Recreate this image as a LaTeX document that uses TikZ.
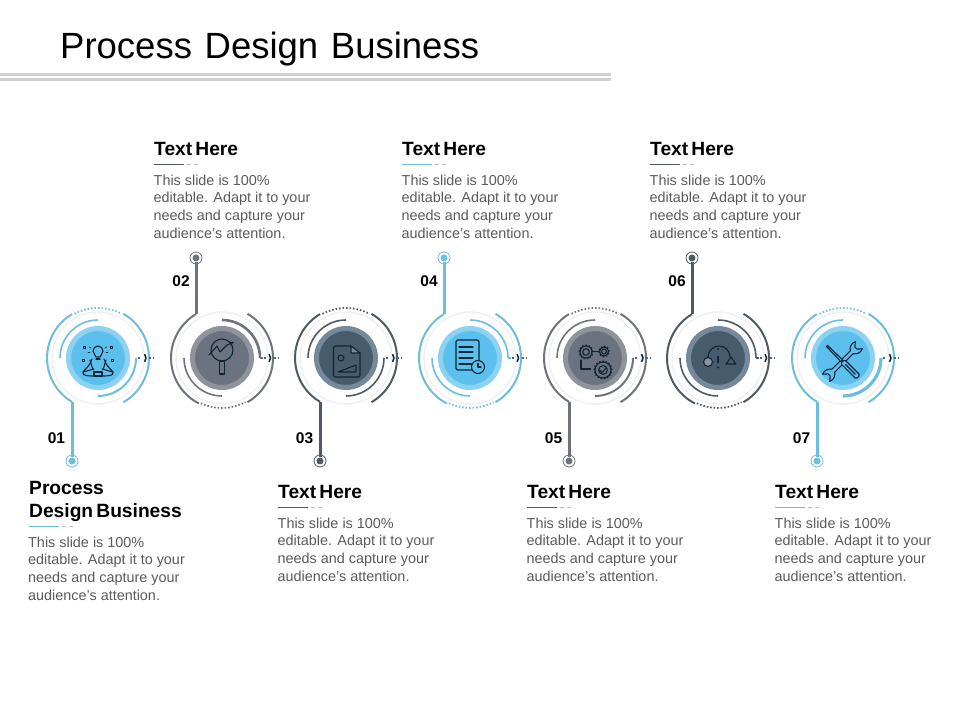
\documentclass[tikz,border=0pt]{standalone}
\usepackage{fontspec}
\setmainfont{Liberation Sans}
\newfontfamily\titlefont[WordSpace=1.25]{Liberation Sans}
\newfontface\headface[WordSpace=0.6]{Liberation Sans Bold}
\usetikzlibrary{arrows,calc}
\definecolor{skyL}{HTML}{6CBEDC}
\definecolor{skyF}{HTML}{5CC0EE}
\definecolor{skyR}{HTML}{8DD2F0}
\definecolor{ashL}{HTML}{6F747C}
\definecolor{ashF}{HTML}{6C7380}
\definecolor{ashR}{HTML}{8F949C}
\definecolor{inkL}{HTML}{4E5B64}
\definecolor{inkF}{HTML}{465B6B}
\definecolor{inkR}{HTML}{75899A}
\definecolor{iconink}{HTML}{0F2536}
\definecolor{bodygrey}{HTML}{5A5A5A}
\tikzset{
  disc/.style={circle,inner sep=0pt,minimum size=59pt,line width=5pt},
  pinnode/.style={circle,inner sep=0pt,minimum size=7pt},
  head/.style={anchor=north west,inner sep=0pt,align=left,font=\headface\fontsize{19.2}{23}\selectfont},
  bodytext/.style={anchor=north west,inner sep=0pt,align=left,text=bodygrey,font=\fontsize{14.4}{17.7}\selectfont},
  stepno/.style={inner sep=0pt,font=\bfseries\fontsize{15.5}{18}\selectfont},
  ico/.style={draw=iconink,line width=1.1pt,line cap=round,line join=round},
  dots/.style={dash pattern=on 1.5pt off 2pt,line width=1.8pt}
}
\newcommand{\ringarc}[5][]{\draw[#1] ($(#2)+(#4:#3)$) arc[start angle=#4,end angle=#5,radius=#3];}
\newcommand{\gearico}[3]{
  \draw[ico] (#1,#2) circle[radius=#3];
  \draw[ico] (#1,#2) circle[radius=.55*#3];
  \draw[draw=iconink,line width=1.4pt,dash pattern=on 1.6pt off 1.6pt] (#1,#2) circle[radius=#3+.7];
}
\newcommand{\bodylines}{This slide is 100\%\\editable. Adapt it to your\\needs and capture your\\audience's attention.}

\begin{document}
\begin{tikzpicture}[x=1pt,y=1pt]
\useasboundingbox (0,0) rectangle (960,720);

\node[anchor=west,inner sep=0pt,font=\titlefont\fontsize{36.5}{40}\selectfont] (title) at (60,671) {Process Design Business};
\draw[line width=3pt,color=black!18] (0,645) -- (611,645);
\draw[line width=3pt,color=black!18] (0,640) -- (611,640);

\foreach \n/\x/\tone/\w in {1/98/sky/2,3/346/ink/1.6,5/595/ash/2,7/843/sky/3.2}{
  \node[disc,draw=\tone R,fill=\tone F] (d\n) at (\x,362) {};
  \ringarc[color=black!6,line width=1.5pt]{d\n}{46}{0}{360}
  \ringarc[color=\tone L,line width=2pt]{d\n}{51}{239.35}{120.65}
  \ringarc[color=\tone L,dots]{d\n}{50}{118}{62}
  \ringarc[color=\tone L,line width=2pt]{d\n}{51}{60}{-60}
  \ringarc[color=\tone L,line width=1.6pt]{d\n}{38}{180}{90}
  \ringarc[color=\tone L,line width=\w pt]{d\n}{38}{0}{-90}
  \coordinate (k\n) at ($(d\n)+(-26,-43.9)$);
  \node[pinnode,fill=\tone L] (p\n) at (\x-26,259) {};
  \draw[color=\tone L,line width=3pt] (k\n) -- (p\n);
  \draw[color=\tone L,line width=.8pt] (p\n) circle[radius=6];
  \node[stepno] (n\n) at (\x-41.5,282) {0\n};
  \draw[color=iconink!70,dots,line width=1.3pt] ($(d\n)+(40,0)$) -- ($(d\n)+(43,0)$);
  \draw[color=iconink!70,dots,line width=1.3pt] ($(d\n)+(51,0)$) -- ($(d\n)+(56,0)$);
  \ringarc[color=iconink,line width=1.5pt]{$(d\n)+(42,0)$}{6}{40}{-40}
}
\foreach \n/\x/\tone/\w in {2/222/ash/2.6,4/470/sky/1.6,6/718/ink/1.6}{
  \node[disc,draw=\tone R,fill=\tone F] (d\n) at (\x,362) {};
  \ringarc[color=black!6,line width=1.5pt]{d\n}{46}{0}{360}
  \ringarc[color=\tone L,line width=2pt]{d\n}{51}{120.65}{243}
  \ringarc[color=\tone L,dots]{d\n}{50}{245}{298}
  \ringarc[color=\tone L,line width=2pt]{d\n}{51}{-60}{60}
  \ringarc[color=\tone L,line width=\w pt]{d\n}{38}{90}{0}
  \draw[color=\tone L,line width=1.6pt] ($(d\n)+(38,0)$) -- ($(d\n)+(41,0)$);
  \ringarc[color=\tone L,line width=1.6pt]{d\n}{38}{180}{270}
  \coordinate (k\n) at ($(d\n)+(-26,43.9)$);
  \node[pinnode,fill=\tone L] (p\n) at (\x-26,462) {};
  \draw[color=\tone L,line width=3pt] (k\n) -- (p\n);
  \draw[color=\tone L,line width=.8pt] (p\n) circle[radius=6];
  \node[stepno] (n\n) at (\x-41,439) {0\n};
  \draw[color=iconink!70,dots,line width=1.3pt] ($(d\n)+(42,0)$) -- ($(d\n)+(45,0)$);
  \draw[color=iconink!70,dots,line width=1.3pt] ($(d\n)+(52,0)$) -- ($(d\n)+(56,0)$);
  \ringarc[color=iconink,line width=1.5pt]{$(d\n)+(42.5,0)$}{6}{40}{-40}
}

\foreach \n/\x/\tone in {2/154/ink,4/402/sky,6/650/ink}{
  \node[head] (h\n) at (\x,578) {Text Here};
  \draw[color=\tone L,line width=.9pt] (\x,556) -- ++(30,0);
  \draw[color=black!25,line width=.9pt,dash pattern=on 4pt off 3pt] (\x+33,556) -- ++(14,0);
  \node[bodytext] (t\n) at (\x-.5,545.5) {\bodylines};
}
\foreach \n/\x/\tone in {3/278/ink,5/527/ink,7/775/sky}{
  \node[head] (h\n) at (\x,235) {Text Here};
  \draw[color=\tone L,line width=.9pt] (\x,213) -- ++(30,0);
  \draw[color=black!25,line width=.9pt,dash pattern=on 4pt off 3pt] (\x+33,213) -- ++(14,0);
  \node[bodytext] (t\n) at (\x-.5,202.5) {\bodylines};
}
\node[head] (h1) at (29,239) {Process\\Design Business};
\draw[color=skyL,line width=.9pt] (29,194) -- ++(30,0);
\draw[color=black!25,line width=.9pt,dash pattern=on 4pt off 3pt] (62,194) -- ++(14,0);
\node[bodytext] (t1) at (28,183.5) {\bodylines};

\begin{scope}[shift={(d1)}]
\draw[ico] (-2,1) .. controls (-2,3) and (-5,4) .. (-5,7) arc[start angle=180,end angle=0,radius=5] .. controls (5,4) and (2,3) .. (2,1) -- cycle;
\draw[ico] (-2,-1) -- (2,-1);
\draw[ico] (-6,-1) .. controls (-8,-8) and (-12,-10) .. (-15,-14) .. controls (-16,-18) and (-10,-18) .. (-4,-18) -- (4,-18) .. controls (10,-18) and (16,-18) .. (15,-14) .. controls (12,-10) and (8,-8) .. (6,-1);
\draw[ico] (-15,-14) -- (-4,-11);
\draw[ico] (15,-14) -- (4,-11);
\draw[ico] (-8,-2) -- (-5,-12);
\draw[ico] (8,-2) -- (5,-12);
\draw[ico] (-4,-14) rectangle (4,-18);
\foreach \a in {150,180,0,30}{\draw[ico,line width=.7pt] (\a:8) ++(0,6) -- ++(\a:2);}
\foreach \px/\py in {-13.5/11,13.5/11,-15/-2.5,14/-2.5}{\draw[ico,line width=.6pt] (\px-1,\py-1) rectangle (\px+1,\py+1);}
\end{scope}

\begin{scope}[shift={(d2)}]
\draw[ico] (0,8) circle[radius=11];
\draw[ico] (-2.5,-3) rectangle (2.5,-16);
\draw[ico,-stealth] (-13,3) -- (-5,12) -- (-2,6) -- (5,13) -- (12,16);
\end{scope}

\begin{scope}[shift={(d3)}]
\draw[ico,rounded corners=2pt] (5,12) -- (-12.5,12) -- (-12.5,-19) -- (14,-19) -- (14,5);
\draw[ico,fill=inkR] (5,12) -- (14,5) -- (5,5) -- cycle;
\draw[ico] (-5,0) circle[radius=3];
\draw[ico,rounded corners=.5pt] (-8,-14) -- (10,-7) -- (10,-14) -- cycle;
\end{scope}

\begin{scope}[shift={(d4)}]
\draw[ico,rounded corners=1.5pt] (-14,18) rectangle (9,-12);
\foreach \py in {11,6,0,-6}{\draw[ico] (-11,\py) -- (3,\py);}
\draw[ico,fill=skyF] (8,-9) circle[radius=6.5];
\draw[ico] (8,-5.5) -- (8,-9) -- (11,-9);
\end{scope}

\begin{scope}[shift={(d5)}]
\gearico{-9}{6}{6}
\gearico{9}{6.5}{4.5}
\gearico{8}{-12}{8}
\draw[ico] (-2,6.5) -- (4,6.5);
\draw[ico] (-14,-2) -- (-14,-11) -- (-5,-11);
\fill[iconink] (-5,-11) circle[radius=1.4];
\draw[ico] (4.5,-12) -- (7,-14.5) -- (11.5,-9.5);
\end{scope}

\begin{scope}[shift={(d6)}]
\draw[ico] (-10,1) arc[start angle=180,end angle=0,radius=11];
\draw[ico,fill=ashR] (-10,-4) circle[radius=4.5];
\draw[ico] (8,-6) -- (18,-6) -- (13,1) -- cycle;
\draw[draw=iconink,line width=2pt] (0,2.3) -- (0,-5);
\fill[iconink] (0,9) circle[radius=1.1] (0,-9.5) circle[radius=1.1];
\end{scope}

\begin{scope}[shift={($(d7)+(-.5,-3.5)$)},rotate=45]
\draw[ico,fill=skyF] (-13,2) -- (13,2) .. controls (15,5) and (19,7) .. (23,5) -- (19,1.5) -- (19,-1.5) -- (23,-5) .. controls (19,-7) and (15,-5) .. (13,-2) -- (-13,-2) .. controls (-15,-5) and (-19,-7) .. (-23,-5) -- (-19,-1.5) -- (-19,1.5) -- (-23,5) .. controls (-19,7) and (-15,5) .. (-13,2);
\end{scope}
\begin{scope}[shift={($(d7)+(-.5,-3.5)$)},rotate=-45]
\draw[ico,fill=skyF] (-22,.8) -- (-1,1.2) -- (-1,-1.2) -- (-22,-.8) -- cycle;
\draw[ico,fill=skyF,rounded corners=1.5pt] (0,2.8) rectangle (22,-2.8);
\draw[ico] (4,0) -- (18,0);
\end{scope}

\end{tikzpicture}
\end{document}
